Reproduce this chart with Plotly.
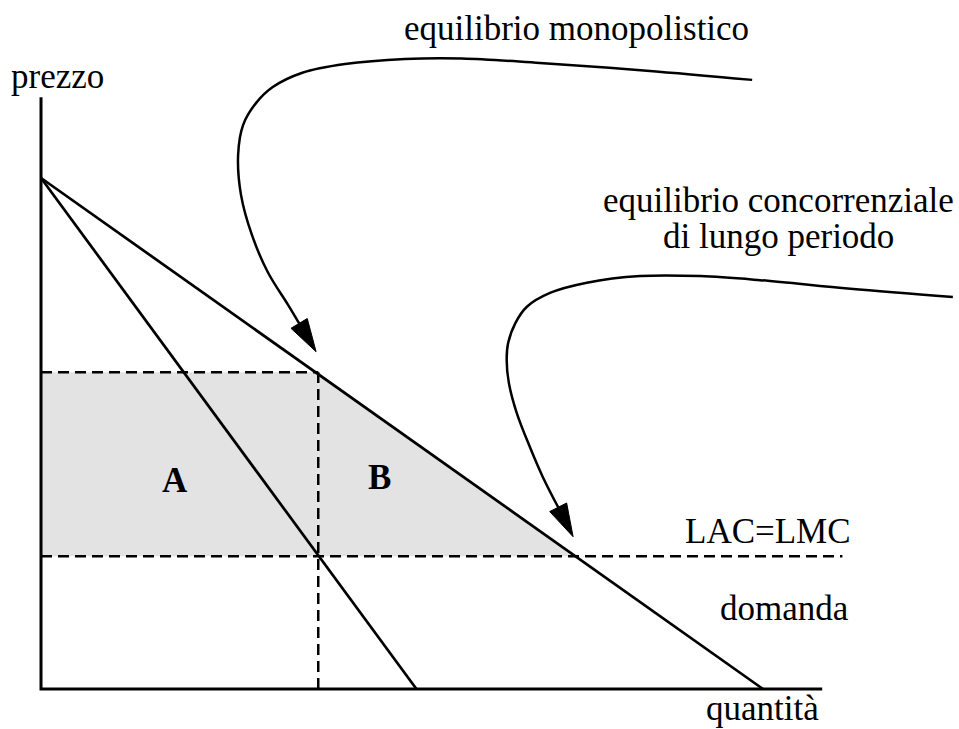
import math
import plotly.graph_objects as go

# ---- data (price / quantity units) ----
P_MAX = 10.0          # demand & MR price intercept
Q_DEMAND = 10.0       # demand quantity intercept
Q_MR = 5.2            # marginal revenue quantity intercept
P_LAC = 2.6           # LAC = LMC level
Q_MONO = 3.84         # monopoly quantity
P_MONO = 6.2          # monopoly price
Q_COMP = 7.42         # long-run competitive quantity
X_AXIS_END = 10.82
Y_AXIS_END = 11.58
LAC_END = 11.1

# annotation curves (arrows), last point = arrow tip
curve_mono_q = [9.85, 8.39, 6.91, 5.83, 5.04, 4.21, 3.62, 3.21, 2.98, 2.80, 2.73, 2.77, 2.92, 3.14, 3.42, 3.81]
curve_mono_p = [11.92, 12.10, 12.25, 12.34, 12.33, 12.23, 12.06, 11.78, 11.47, 11.04, 10.45, 9.67, 8.89, 8.16, 7.52, 6.60]
curve_comp_q = [12.63, 11.21, 9.96, 9.13, 8.30, 7.56, 7.05, 6.73, 6.57, 6.47, 6.45, 6.48, 6.59, 6.77, 6.95, 7.37]
curve_comp_p = [7.67, 7.83, 8.00, 8.08, 8.08, 7.95, 7.75, 7.48, 7.16, 6.77, 6.44, 5.99, 5.40, 4.74, 4.15, 2.98]

W, H = 959, 729
X_RANGE = [-0.568, 12.715]
Y_RANGE = [-0.783, 13.483]
KX = W / (X_RANGE[1] - X_RANGE[0])
KY = H / (Y_RANGE[1] - Y_RANGE[0])

FONT = "Liberation Serif, Times New Roman, serif"
BLACK = "black"
FILL = "#e3e3e3"

fig = go.Figure()

# shaded areas A (rectangle) and B (triangle)
fig.add_trace(go.Scatter(
    x=[0, Q_MONO, Q_MONO, 0, 0], y=[P_LAC, P_LAC, P_MONO, P_MONO, P_LAC],
    fill="toself", fillcolor=FILL, line=dict(width=0), mode="lines", hoverinfo="skip"))
fig.add_trace(go.Scatter(
    x=[Q_MONO, Q_COMP, Q_MONO, Q_MONO], y=[P_LAC, P_LAC, P_MONO, P_LAC],
    fill="toself", fillcolor=FILL, line=dict(width=0), mode="lines", hoverinfo="skip"))

# dashed lines
dash = "11px,6px"
fig.add_trace(go.Scatter(x=[0, Q_MONO], y=[P_MONO, P_MONO], mode="lines",
                         line=dict(color=BLACK, width=2.5, dash=dash)))
fig.add_trace(go.Scatter(x=[Q_MONO, Q_MONO], y=[0, P_MONO], mode="lines",
                         line=dict(color=BLACK, width=2.5, dash=dash)))
fig.add_trace(go.Scatter(x=[0, LAC_END], y=[P_LAC, P_LAC], mode="lines",
                         line=dict(color=BLACK, width=2.5, dash=dash)))

# demand and marginal revenue
fig.add_trace(go.Scatter(x=[0, Q_DEMAND], y=[P_MAX, 0], mode="lines",
                         line=dict(color=BLACK, width=2.7)))
fig.add_trace(go.Scatter(x=[0, Q_MR], y=[P_MAX, 0], mode="lines",
                         line=dict(color=BLACK, width=2.7)))

# axes
fig.add_trace(go.Scatter(x=[0, 0, X_AXIS_END], y=[Y_AXIS_END, 0, 0], mode="lines",
                         line=dict(color=BLACK, width=3)))


def add_arrow(qs, ps, length=33, width=19):
    tx, ty = qs[-1], ps[-1]
    dx = (tx - qs[-2]) * KX
    dy = (ty - ps[-2]) * KY
    n = math.hypot(dx, dy)
    ux, uy = dx / n, dy / n
    bx = tx - length * ux / KX
    by = ty - length * uy / KY
    c1 = (bx - width / 2 * uy / KX, by + width / 2 * ux / KY)
    c2 = (bx + width / 2 * uy / KX, by - width / 2 * ux / KY)
    fig.add_trace(go.Scatter(x=list(qs[:-1]) + [bx], y=list(ps[:-1]) + [by], mode="lines",
                             line=dict(color=BLACK, width=2.5, shape="spline", smoothing=1.0)))
    fig.add_trace(go.Scatter(x=[tx, c1[0], c2[0], tx], y=[ty, c1[1], c2[1], ty],
                             mode="lines", fill="toself", fillcolor=BLACK,
                             line=dict(color=BLACK, width=1)))


add_arrow(curve_mono_q, curve_mono_p)
add_arrow(curve_comp_q, curve_comp_p)

labels = [
    ("prezzo", 57, 76, False),
    ("equilibrio monopolistico", 576, 28, False),
    ("equilibrio concorrenziale", 778, 200, False),
    ("di lungo periodo", 778, 236, False),
    ("LAC=LMC", 768, 531, False),
    ("domanda", 784, 608, False),
    ("quantità", 762, 708, False),
    ("A", 175, 480, True),
    ("B", 379, 477, True),
]
for text, px, py, bold in labels:
    fig.add_annotation(
        text=f"<b>{text}</b>" if bold else text,
        x=px / W, y=1 - py / H, xref="paper", yref="paper",
        xanchor="center", yanchor="middle", showarrow=False,
        font=dict(family=FONT, size=35, color=BLACK))

fig.update_layout(
    width=W, height=H, margin=dict(l=0, r=0, t=0, b=0),
    paper_bgcolor="white", plot_bgcolor="white", showlegend=False,
    xaxis=dict(range=X_RANGE, visible=False, fixedrange=True),
    yaxis=dict(range=Y_RANGE, visible=False, fixedrange=True),
)

fig.write_html("out.html", config={"displayModeBar": False},
               post_script="document.body.style.margin='0';document.body.style.overflow='hidden';")
